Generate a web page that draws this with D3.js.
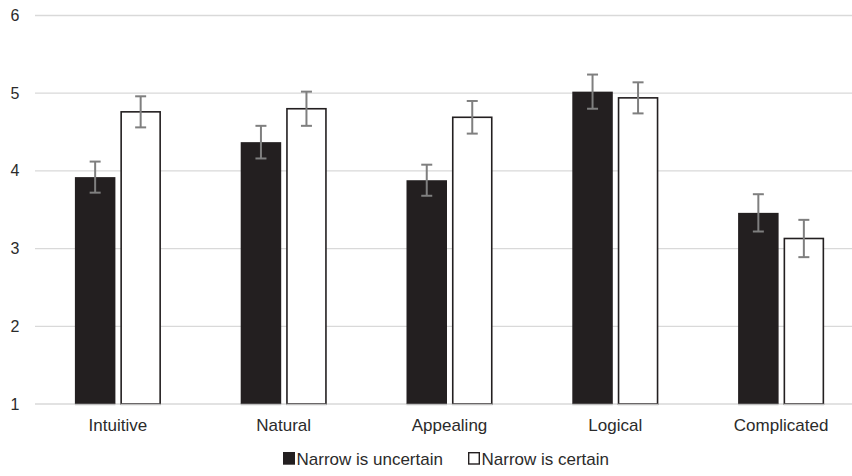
<!DOCTYPE html>
<html>
<head>
<meta charset="utf-8">
<script src="https://cdn.jsdelivr.net/npm/d3@7"></script>
<style>
  body { margin: 0; background: #fff; }
  svg { display: block; font-family: "Liberation Sans", Arial, sans-serif; }
</style>
</head>
<body>
<svg id="svg"></svg>
<script>
const categories = ["Intuitive", "Natural", "Appealing", "Logical", "Complicated"];
const seriesNames = ["Narrow is uncertain", "Narrow is certain"];
const uncertainVals = [3.92, 4.37, 3.88, 5.02, 3.46];
const uncertainErr = [0.20, 0.21, 0.20, 0.22, 0.24];
const certainVals = [4.76, 4.80, 4.69, 4.94, 3.13];
const certainErr = [0.20, 0.22, 0.21, 0.20, 0.24];
const yTicks = [1, 2, 3, 4, 5, 6];

const layout = {width: 852, height: 476, left: 35, right: 864, top: 15.5, bottom: 404};

const svg = d3.select("#svg").attr("width", layout.width).attr("height", layout.height);

const yScale = d3.scaleLinear().domain([1, 6]).range([layout.bottom, layout.top]);
const xScale = d3.scaleBand().domain(categories).range([layout.left, layout.right]);
const inner = d3.scaleBand().domain(seriesNames)
  .range([xScale.bandwidth() / 2 - 43, xScale.bandwidth() / 2 + 43])
  .paddingInner(0.11);

const rows = [];
categories.forEach((c, i) => {
  rows.push({cat: c, s: seriesNames[0], v: uncertainVals[i], e: uncertainErr[i]});
  rows.push({cat: c, s: seriesNames[1], v: certainVals[i], e: certainErr[i]});
});

// gridlines
svg.append("g").selectAll("line").data(yTicks).join("line")
  .attr("x1", layout.left).attr("x2", layout.width)
  .attr("y1", d => yScale(d)).attr("y2", d => yScale(d))
  .attr("stroke", "#d9d9d9").attr("stroke-width", 1.3);

svg.append("g").selectAll("text").data(yTicks).join("text")
  .attr("x", 15).attr("y", d => yScale(d) + 5.5)
  .attr("text-anchor", "middle").attr("font-size", 16).attr("fill", "#2b2b2b")
  .text(d => d);

// bars
svg.append("g").selectAll("rect").data(rows).join("rect")
  .attr("x", d => xScale(d.cat) + inner(d.s) + (d.s === seriesNames[1] ? 0.75 : 0))
  .attr("width", d => inner.bandwidth() - (d.s === seriesNames[1] ? 1.5 : 0))
  .attr("y", d => yScale(d.v))
  .attr("height", d => yScale(1) - yScale(d.v))
  .attr("fill", d => d.s === seriesNames[0] ? "#231f20" : "#fff")
  .attr("stroke", d => d.s === seriesNames[0] ? "none" : "#231f20")
  .attr("stroke-width", 1.6);

// baseline under bars
svg.append("g").selectAll("line").data(rows).join("line")
  .attr("x1", d => xScale(d.cat) + inner(d.s))
  .attr("x2", d => xScale(d.cat) + inner(d.s) + inner.bandwidth())
  .attr("y1", yScale(1) + 0.5).attr("y2", yScale(1) + 0.5)
  .attr("stroke", "#bfbfbf").attr("stroke-width", 1.3);

// error bars
const eb = svg.append("g").attr("stroke", "#7f7f7f").attr("stroke-width", 2).selectAll("g").data(rows).join("g")
  .attr("transform", d => `translate(${xScale(d.cat) + inner(d.s) + inner.bandwidth() / 2},0)`);
eb.append("line").attr("y1", d => yScale(d.v + d.e)).attr("y2", d => yScale(d.v - d.e));
eb.append("line").attr("x1", -5.5).attr("x2", 5.5).attr("y1", d => yScale(d.v + d.e)).attr("y2", d => yScale(d.v + d.e));
eb.append("line").attr("x1", -5.5).attr("x2", 5.5).attr("y1", d => yScale(d.v - d.e)).attr("y2", d => yScale(d.v - d.e));

// category labels
svg.append("g").selectAll("text").data(categories).join("text")
  .attr("x", d => xScale(d) + xScale.bandwidth() / 2).attr("y", 431)
  .attr("text-anchor", "middle").attr("font-size", 17).attr("fill", "#2b2b2b")
  .text(d => d);

// legend
const legend = svg.append("g").attr("transform", "translate(283,452)");
const lg = legend.selectAll("g").data(seriesNames).join("g")
  .attr("transform", (d, i) => `translate(${i * 185},0)`);
lg.append("rect").attr("x", 0.7).attr("y", 0.7).attr("width", 10.6).attr("height", 11.3)
  .attr("fill", (d, i) => i === 0 ? "#231f20" : "#fff")
  .attr("stroke", "#231f20").attr("stroke-width", 1.4);
lg.append("text").attr("x", 13.5).attr("y", 12.5).attr("font-size", 17).attr("fill", "#2b2b2b")
  .text(d => d);
</script>
</body>
</html>
